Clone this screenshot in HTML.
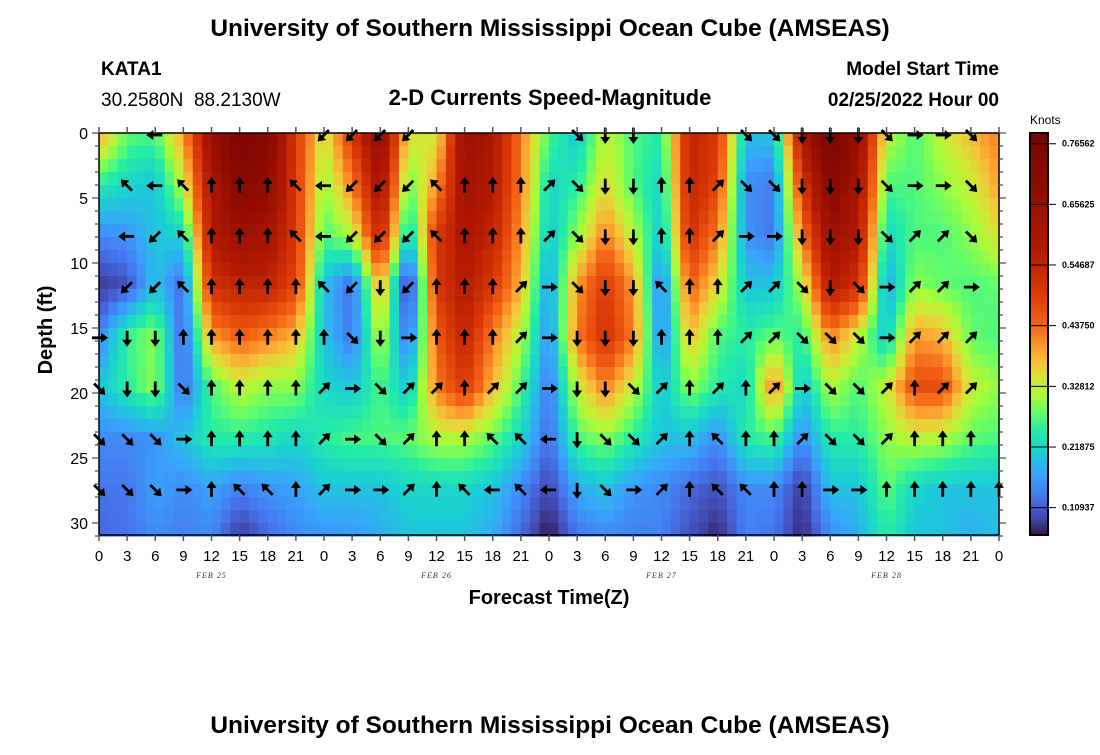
<!DOCTYPE html>
<html><head><meta charset="utf-8"><style>
body{margin:0;background:#fff;width:1100px;height:750px;overflow:hidden;font-family:"Liberation Sans",sans-serif}
svg text{font-family:"Liberation Sans",sans-serif}
</style></head><body>
<svg id="chart" width="1100" height="750" xmlns="http://www.w3.org/2000/svg">
<text x="550" y="36" text-anchor="middle" font-size="24.5" font-weight="bold">University of Southern Mississippi Ocean Cube (AMSEAS)</text>
<text x="101" y="75" font-size="19" font-weight="bold">KATA1</text>
<text x="101" y="106" font-size="19" xml:space="preserve">30.2580N  88.2130W</text>
<text x="550" y="105" text-anchor="middle" font-size="22" font-weight="bold">2-D Currents Speed-Magnitude</text>
<text x="999" y="75" text-anchor="end" font-size="19" font-weight="bold">Model Start Time</text>
<text x="999" y="106" text-anchor="end" font-size="19" font-weight="bold">02/25/2022 Hour 00</text>
<g id="heat"></g>
<g id="arrows"></g>
<rect x="99" y="133" width="900" height="402" fill="none" stroke="#000" stroke-width="1.5"/>
<g id="axes"></g>
<text transform="translate(52,330) rotate(-90)" text-anchor="middle" font-size="20" font-weight="bold">Depth (ft)</text>
<text x="549" y="604" text-anchor="middle" font-size="20" font-weight="bold">Forecast Time(Z)</text>
<g id="cbar"></g>
<text x="1030" y="124" font-size="12">Knots</text>
<text x="550" y="733" text-anchor="middle" font-size="24.5" font-weight="bold">University of Southern Mississippi Ocean Cube (AMSEAS)</text>
</svg>
<script>
// hours 0..96 step 3
const hours = [0,3,6,9,12,15,18,21,24,27,30,33,36,39,42,45,48,51,54,57,60,63,66,69,72,75,78,81,84,87,90,93,96];
const depths = [0,3.9,7.8,11.7,15.6,19.5,23.4,27.3,31];
// speed (knots) per depth row, one value per hour column
const speedD0  = [0.40,0.28,0.27,0.40,0.65,0.77,0.72,0.50,0.33,0.50,0.68,0.35,0.33,0.65,0.60,0.42,0.27,0.20,0.33,0.27,0.25,0.55,0.50,0.20,0.20,0.60,0.78,0.65,0.33,0.27,0.33,0.38,0.42];
const speedD4  = [0.25,0.22,0.20,0.33,0.60,0.72,0.68,0.50,0.30,0.42,0.62,0.28,0.40,0.63,0.58,0.42,0.22,0.25,0.35,0.27,0.22,0.55,0.48,0.15,0.14,0.50,0.72,0.62,0.27,0.27,0.30,0.33,0.40];
const speedD8  = [0.15,0.16,0.20,0.22,0.58,0.65,0.62,0.50,0.27,0.32,0.55,0.20,0.50,0.60,0.55,0.40,0.20,0.30,0.42,0.32,0.20,0.52,0.42,0.16,0.13,0.42,0.65,0.58,0.22,0.27,0.27,0.30,0.35];
const speedD12 = [0.08,0.10,0.20,0.12,0.52,0.55,0.55,0.48,0.20,0.12,0.40,0.06,0.50,0.58,0.50,0.38,0.16,0.40,0.50,0.40,0.13,0.45,0.35,0.20,0.20,0.32,0.58,0.52,0.17,0.30,0.28,0.27,0.28];
const speedD16 = [0.14,0.26,0.30,0.11,0.40,0.45,0.42,0.38,0.20,0.13,0.33,0.12,0.45,0.55,0.42,0.32,0.15,0.42,0.52,0.42,0.14,0.38,0.27,0.25,0.28,0.25,0.42,0.33,0.20,0.40,0.38,0.28,0.27];
const speedD20 = [0.20,0.25,0.30,0.12,0.27,0.33,0.30,0.30,0.22,0.20,0.27,0.20,0.42,0.50,0.38,0.27,0.13,0.33,0.42,0.33,0.20,0.30,0.25,0.22,0.42,0.20,0.32,0.27,0.33,0.47,0.47,0.33,0.30];
const speedD24 = [0.15,0.15,0.16,0.20,0.25,0.25,0.24,0.22,0.25,0.27,0.27,0.28,0.32,0.32,0.28,0.22,0.12,0.27,0.30,0.25,0.20,0.20,0.15,0.25,0.27,0.15,0.25,0.25,0.30,0.33,0.32,0.28,0.27];
const speedD28 = [0.13,0.13,0.17,0.15,0.17,0.14,0.16,0.17,0.20,0.20,0.20,0.22,0.22,0.22,0.20,0.15,0.09,0.18,0.20,0.16,0.15,0.12,0.10,0.15,0.15,0.08,0.20,0.20,0.28,0.22,0.20,0.20,0.20];
const speedD31 = [0.12,0.13,0.15,0.14,0.15,0.08,0.12,0.15,0.16,0.16,0.18,0.20,0.20,0.20,0.18,0.12,0.06,0.13,0.15,0.14,0.14,0.10,0.07,0.14,0.13,0.07,0.15,0.18,0.25,0.20,0.20,0.18,0.20];
const speedRows = [speedD0,speedD4,speedD8,speedD12,speedD16,speedD20,speedD24,speedD28,speedD31];
// arrow directions: 0=N,1=NE,2=E,3=SE,4=S,5=SW,6=W,7=NW, '.'=none (one entry per hour column)
const arrowDepths = [0,3.9,7.8,11.7,15.6,19.5,23.4,27.3];
const dirRows = [
 ". . 6 . . . . . 5 5 5 5 . . . . . 3 4 4 . . . 3 3 4 4 4 3 2 2 3 .",
 ". 7 6 7 0 0 0 7 6 5 5 5 7 0 0 0 1 3 4 4 0 0 1 3 3 4 4 4 3 2 2 3 .",
 ". 6 5 7 0 0 0 7 6 5 5 5 7 0 0 0 1 3 4 4 0 0 1 2 2 4 4 4 3 1 1 3 .",
 ". 5 5 7 0 0 0 0 7 5 4 5 0 0 0 1 2 3 4 4 7 0 0 1 1 3 4 3 2 1 1 2 .",
 "2 4 4 0 0 0 0 0 0 3 4 2 0 0 0 1 2 4 4 4 0 0 0 1 1 3 3 3 2 1 1 1 .",
 "3 4 4 3 0 0 0 0 1 2 3 1 1 0 1 1 2 4 4 3 1 0 1 0 1 2 3 3 1 0 1 1 .",
 "3 3 3 2 0 0 0 0 1 2 3 1 0 0 7 7 6 4 3 3 1 0 7 0 0 1 3 3 1 0 0 0 .",
 "3 3 3 2 0 7 7 0 1 2 2 1 0 7 6 7 6 4 3 2 1 0 7 7 0 0 2 2 0 0 0 0 0"
];
const xTicks = ["0","3","6","9","12","15","18","21","0","3","6","9","12","15","18","21","0","3","6","9","12","15","18","21","0","3","6","9","12","15","18","21","0"];
const yTicks = [0,5,10,15,20,25,30];
const dateLabels = ["FEB 25","FEB 26","FEB 27","FEB 28"];
const cbarTicks = ["0.76562","0.65625","0.54687","0.43750","0.32812","0.21875","0.10937"];
const cbarVals = [0.765625,0.65625,0.546875,0.4375,0.328125,0.21875,0.109375];

const NS="http://www.w3.org/2000/svg";
const X0=99,X1=999,Y0=133,YB=535;
const xs=h=>X0+(h/96)*(X1-X0);
const ys=d=>Y0+d*13;
const cbMin=0.06,cbMax=0.785;
const cy=v=>YB-(v-cbMin)/(cbMax-cbMin)*(YB-Y0);
const stops=[[0.06,[48,18,59]],[0.09,[65,69,171]],[0.13,[70,117,237]],[0.17,[57,162,252]],[0.21,[27,207,212]],[0.25,[36,236,166]],[0.28,[97,252,108]],[0.31,[164,252,59]],[0.34,[209,232,52]],[0.37,[243,198,58]],[0.40,[254,155,45]],[0.44,[243,99,21]],[0.50,[217,56,6]],[0.58,[177,25,1]],[0.68,[144,12,0]],[0.78,[122,4,3]]];
function color(v){
  if(v<=stops[0][0])return `rgb(${stops[0][1]})`;
  for(let i=1;i<stops.length;i++){if(v<=stops[i][0]){const a=stops[i-1],b=stops[i],t=(v-a[0])/(b[0]-a[0]);
    return `rgb(${a[1].map((c,k)=>Math.round(c+(b[1][k]-c)*t)).join(',')})`;}}
  return `rgb(${stops[stops.length-1][1]})`;
}
function mk(tag,attrs,parent){const e=document.createElementNS(NS,tag);for(const k in attrs)e.setAttribute(k,attrs[k]);parent.appendChild(e);return e;}
function sample(h,d){
  let i=Math.min(hours.length-2,Math.floor(h/3));let tx=(h-hours[i])/3;
  let j=0;while(j<depths.length-2&&d>depths[j+1])j++;
  let ty=Math.max(0,Math.min(1,(d-depths[j])/(depths[j+1]-depths[j])));
  const a=speedRows[j][i],b=speedRows[j][i+1],c=speedRows[j+1][i],e=speedRows[j+1][i+1];
  return (a*(1-tx)+b*tx)*(1-ty)+(c*(1-tx)+e*tx)*ty;
}
const heat=document.getElementById('heat');
for(let c=0;c<96;c++){for(let r=0;r<31;r++){
  const v=sample(c+0.5,r+0.5);
  const el=mk('rect',{x:xs(c).toFixed(2),y:ys(r),width:(9.375+0.6).toFixed(2),height:13.6,fill:color(v)},heat);
  
  
}}
const ar=document.getElementById('arrows');
dirRows.forEach((rowStr,ri)=>{const row=rowStr.split(' ');for(let ci=0;ci<hours.length;ci++){const ch=row[ci];if(!ch||ch==='.')continue;
  const ang=parseInt(ch)*45;
  const g=mk('g',{transform:`translate(${xs(hours[ci])},${ys(arrowDepths[ri])+2}) rotate(${ang})`},ar);
  
  
  mk('line',{x1:0,y1:7,x2:0,y2:-3,stroke:'#000','stroke-width':2.8},g);
  mk('path',{d:'M0,-9 L-5,-2 L5,-2 Z',fill:'#000'},g);
}});
const ax=document.getElementById('axes');
for(let h=0;h<=96;h+=3){
  mk('line',{x1:xs(h),y1:Y0,x2:xs(h),y2:Y0-6,stroke:'#555','stroke-width':1.5},ax);
  mk('line',{x1:xs(h),y1:YB,x2:xs(h),y2:YB+6,stroke:'#555','stroke-width':1.5},ax);
}
xTicks.forEach((t,i)=>{const el=mk('text',{x:xs(i*3),y:561,'text-anchor':'middle','font-size':15},ax);el.textContent=t;
  
  });
dateLabels.forEach((t,i)=>{const el=mk('text',{x:xs(12+24*i),y:578,'text-anchor':'middle','font-size':8,'font-style':'italic',fill:'#333',style:'font-family:"Liberation Serif",serif;letter-spacing:1px'},ax);el.textContent=t;
  
  });
for(let d=0;d<=31;d++){const L=d%5===0?7:4;
  mk('line',{x1:X0,y1:ys(d),x2:X0-L,y2:ys(d),stroke:'#555','stroke-width':1.3},ax);
  mk('line',{x1:X1,y1:ys(d),x2:X1+L,y2:ys(d),stroke:'#555','stroke-width':1.3},ax);}
yTicks.forEach(t=>{const el=mk('text',{x:88,y:ys(t)+6,'text-anchor':'end','font-size':16},ax);el.textContent=t;
  
  });
const cb=document.getElementById('cbar');
for(let y=Y0;y<YB;y+=2){const v=cbMin+(YB-y)/(YB-Y0)*(cbMax-cbMin);mk('rect',{x:1030,y:y,width:18,height:2.5,fill:color(v)},cb);}
mk('rect',{x:1030,y:Y0,width:18,height:YB-Y0,fill:'none',stroke:'#000','stroke-width':2},cb);
cbarVals.forEach((v,i)=>{const y=cy(v);mk('line',{x1:1030,y1:y,x2:1056,y2:y,stroke:'#000','stroke-width':1},cb);
  const el=mk('text',{x:1062,y:y+3,'font-size':9,'font-weight':'bold'},cb);el.textContent=cbarTicks[i];
  
  });
</script>
</body></html>
